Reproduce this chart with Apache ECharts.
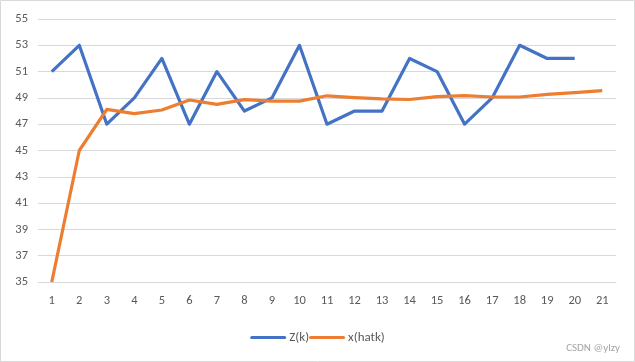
<!DOCTYPE html>
<html><head><meta charset="utf-8">
<script src="https://cdn.jsdelivr.net/npm/echarts@6/dist/echarts.min.js"></script>
<style>html,body{margin:0;padding:0;background:#fff}#c{width:635px;height:362px}</style>
</head><body><div id="c"></div>
<script>
const categories = ['1','2','3','4','5','6','7','8','9','10','11','12','13','14','15','16','17','18','19','20','21'];
const zk = [51,53,47,49,52,47,51,48,49,53,47,48,48,52,51,47,49,53,52,52,null];
const xhat = [35,45,48.13,47.8,48.08,48.84,48.51,48.87,48.76,48.76,49.16,49.02,48.92,48.88,49.09,49.17,49.07,49.07,49.27,49.4,49.55];
const seriesNames = ['Z(k)','x(hatk)'];
const font = 'Calibri, "Liberation Sans", "Open Sans", sans-serif';
const chart = echarts.init(document.getElementById('c'), null, {renderer:'canvas'});
chart.setOption({
  animation:false,
  backgroundColor:'#fff',
  textStyle:{fontFamily:font},
  graphic:[
    {type:'rect', shape:{x:0.5,y:0.5,width:634,height:361}, style:{fill:'none',stroke:'#d9d9d9',lineWidth:1}, silent:true},
    {type:'text', right:15, bottom:8, style:{text:'CSDN @ylzy', fill:'#a6a6a6', font:'11px '+font}}
  ],
  grid:{left:38,right:19,top:19,bottom:80,containLabel:false},
  legend:{bottom:13,left:'center',itemWidth:36,itemHeight:10,itemGap:0,
    textStyle:{color:'#595959',fontSize:13,fontFamily:font,padding:[0,0,0,-2]},
    data:seriesNames.map(n=>({name:n,icon:'path://M1.5,3.5 L34.5,3.5 A1.5,1.5 0 0 1 34.5,6.5 L1.5,6.5 A1.5,1.5 0 0 1 1.5,3.5 Z'}))},
  xAxis:{type:'category',data:categories,boundaryGap:true,
    axisLine:{lineStyle:{color:'#d9d9d9'}},axisTick:{show:false},
    axisLabel:{color:'#595959',fontSize:12.5,margin:12,fontFamily:font}},
  yAxis:{type:'value',min:35,max:55,interval:2,
    axisLine:{show:false},axisTick:{show:false},
    splitLine:{lineStyle:{color:'#d9d9d9'}},
    axisLabel:{color:'#595959',fontSize:12.5,margin:10,fontFamily:font}},
  series:[
    {name:seriesNames[0],type:'line',data:zk,showSymbol:false,symbol:'none',lineStyle:{color:'#4472C4',width:3.2,join:'round'},itemStyle:{color:'#4472C4'}},
    {name:seriesNames[1],type:'line',data:xhat,showSymbol:false,symbol:'none',lineStyle:{color:'#ED7D31',width:3.2,join:'round'},itemStyle:{color:'#ED7D31'}}
  ]
});
</script></body></html>
